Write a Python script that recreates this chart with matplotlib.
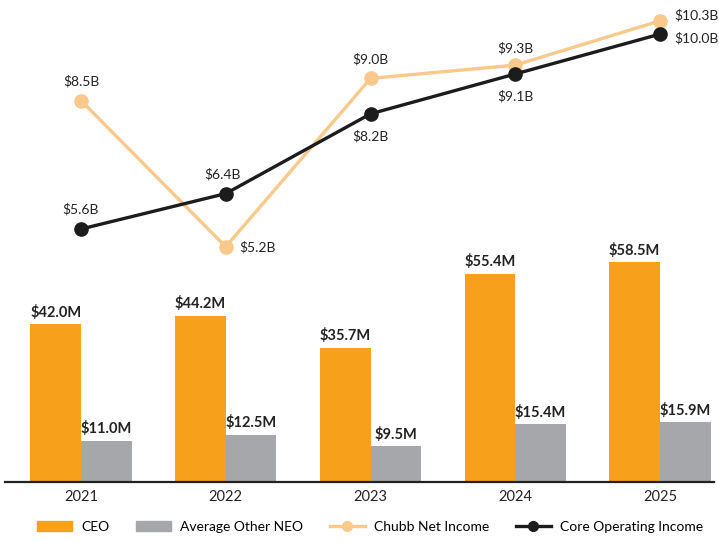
import matplotlib.pyplot as plt
from matplotlib.lines import Line2D
from matplotlib.patches import Patch
import numpy as np

plt.rcParams['font.family'] = ['Lato', 'DejaVu Sans']

years = ['2021', '2022', '2023', '2024', '2025']
ceo_pay = [42.0, 44.2, 35.7, 55.4, 58.5]          # $M
neo_pay = [11.0, 12.5, 9.5, 15.4, 15.9]           # $M
net_income = [8.5, 5.2, 9.0, 9.3, 10.3]           # $B
core_income = [5.6, 6.4, 8.2, 9.1, 10.0]          # $B

ORANGE = '#F6A01C'
GRAY = '#A6A7AA'
LIGHT = '#F9C98C'
DARK = '#1C1C1C'

fig = plt.figure(figsize=(7.19, 5.42), dpi=100)
ax = fig.add_axes([5/719, 60/542, 709/719, 482/542])
x = np.arange(len(years))
w = 0.35

b1 = ax.bar(x - w/2, ceo_pay, w, color=ORANGE)
b2 = ax.bar(x + w/2, neo_pay, w, color=GRAY)
for rects, vals in ((b1, ceo_pay), (b2, neo_pay)):
    for r, v in zip(rects, vals):
        ax.text(r.get_x() + r.get_width()/2, v + 1.2, f'${v:.1f}M',
                ha='center', va='bottom', fontsize=10.5, fontweight='bold',
                color='#222222')

ax.set_xlim(-0.525, 4.373)
ax.set_ylim(0, 128.2)
ax.set_xticks(x)
ax.set_xticklabels(years, fontsize=10.5, color='#222222')
ax.tick_params(axis='x', length=0, pad=6)
ax.set_yticks([])
for s in ('top', 'right', 'left'):
    ax.spines[s].set_visible(False)
ax.spines['bottom'].set_linewidth(1.6)
ax.spines['bottom'].set_color('#222222')

# income lines on a twin axis
ax2 = ax.twinx()
ax2.set_ylim(-0.11, 10.77)
ax2.axis('off')
ax2.plot(x, net_income, color=LIGHT, lw=2.4, marker='o', ms=9.5, zorder=3)
ax2.plot(x, core_income, color=DARK, lw=2.4, marker='o', ms=9.5, zorder=4)

# label offsets in points (dx, dy, ha)
net_pos = [(0, 14, 'center'), (10, 0, 'left'), (0, 14, 'center'),
           (0, 12, 'center'), (10, 4, 'left')]
core_pos = [(0, 14, 'center'), (-2, 14, 'center'), (0, -16, 'center'),
            (0, -16, 'center'), (10, -3, 'left')]
for vals, pos in ((net_income, net_pos), (core_income, core_pos)):
    for xi, v, (dx, dy, ha) in zip(x, vals, pos):
        ax2.annotate(f'${v:.1f}B', (xi, v), xytext=(dx, dy),
                     textcoords='offset points', ha=ha, va='center',
                     fontsize=10, color='#222222')

handles = [Patch(color=ORANGE), Patch(color=GRAY),
           Line2D([], [], color=LIGHT, lw=2.4, marker='o', ms=7),
           Line2D([], [], color=DARK, lw=2.4, marker='o', ms=7)]
labels = ['CEO', 'Average Other NEO', 'Chubb Net Income', 'Core Operating Income']
fig.legend(handles, labels, loc='center', bbox_to_anchor=(370/719, 15/542),
           ncol=4, frameon=False, fontsize=10, handlelength=2.5,
           columnspacing=1.95, handletextpad=0.65, borderaxespad=0,
           borderpad=0)

fig.savefig('out.png', dpi=100)
